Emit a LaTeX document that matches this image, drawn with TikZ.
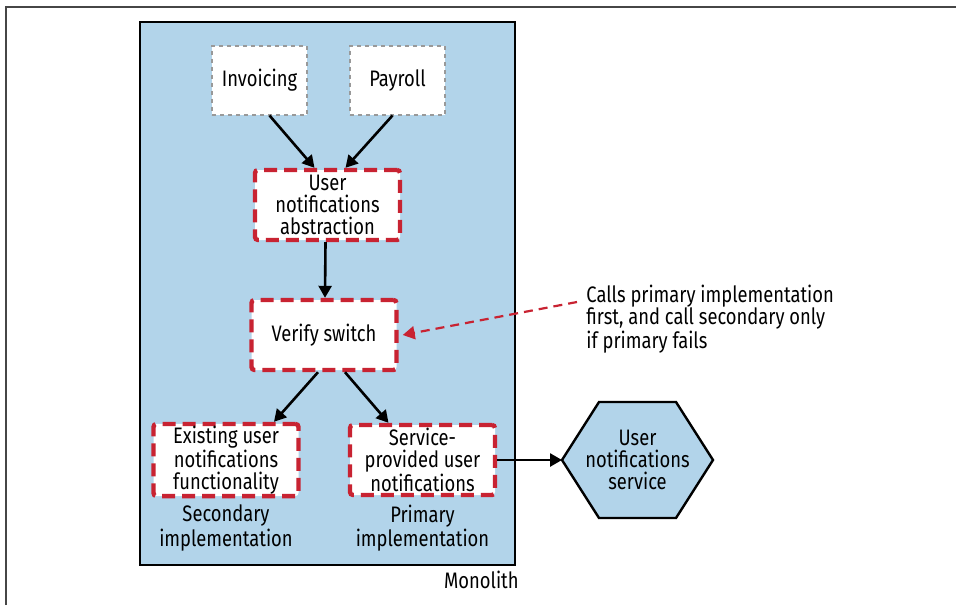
\documentclass[tikz,border=0pt]{standalone}
\usepackage{fontspec}
\setmainfont[FakeStretch=0.82]{Fira Sans}
\usetikzlibrary{positioning,arrows.meta,calc}
\definecolor{MonoBlue}{RGB}{178,212,234}
\definecolor{SwitchRed}{RGB}{200,35,50}
\definecolor{FrameGray}{RGB}{70,70,70}
\tikzset{
  txt/.style={font=\fontsize{11.2}{10.8}\selectfont, align=center, inner sep=1pt},
  callerbox/.style={txt, draw=gray!80, fill=white, dash pattern=on 2pt off 2pt, line width=1pt,
    minimum width=47.5pt, minimum height=34.5pt},
  implbox/.style={txt, draw=SwitchRed, fill=white, dash pattern=on 6.5pt off 3.5pt, line width=2.2pt,
    rounded corners=1.5pt, minimum width=72.5pt, minimum height=35pt},
  monolith/.style={draw, line width=1.3pt, fill=MonoBlue},
  hexbox/.style={draw, line width=1.2pt, fill=MonoBlue, line join=miter},
  arr/.style={-{Triangle[length=6pt,width=6.5pt]}, line width=1.3pt},
  notearr/.style={-{Triangle[length=6pt,width=6.5pt]}, line width=1.1pt, SwitchRed, dash pattern=on 4.5pt off 3pt},
}

\begin{document}
\begin{tikzpicture}[x=0.5pt, y=-0.5pt]
  \useasboundingbox (0,0) rectangle (956,605);
  % page frame
  \draw[FrameGray, line width=1pt] (6,605) -- (6,7) -- (956,7);

  % monolith
  \draw[monolith] (140,22) rectangle (515,565);
  \node[txt, anchor=east] (monolbl) at (521,580) {Monolith};

  % callers
  \node[callerbox] (inv) at (259.5,80) {Invoicing};
  \node[callerbox] (pay) at (397.5,80) {Payroll};

  % abstraction and switch
  \node[implbox] (abs) at (327.5,205) {User\\notifications\\abstraction};
  \node[implbox] (vs) at (324,335) {Verify switch};

  % implementations
  \node[implbox] (old) at (226,460) {Existing user\\notifications\\functionality};
  \node[implbox] (spu) at (422.5,460) {Service-\\provided user\\notifications};
  \node[txt] (seclbl) at (226,528) {Secondary\\implementation};
  \node[txt] (prilbl) at (422.5,528) {Primary\\implementation};

  % external service
  \coordinate (svc-w) at (562,460);
  \draw[hexbox] (svc-w) -- ++(37,-58) -- ++(77,0) -- ++(37,58) -- ++(-37,58) -- ++(-77,0) -- cycle;
  \node[txt] (svc) at (637.5,460) {User\\notifications\\service};

  % note
  \node[txt, align=left, anchor=west] (note) at (584,319)
    {Calls primary implementation\\first, and call secondary only\\if primary fails};
  \coordinate (note-tail) at (577,302);

  % connectors
  \draw[arr] ($(inv.south)+(10,0)$) -- ($(abs.north)+(-13,0)$);
  \draw[arr] ($(pay.south)+(-5,0)$) -- ($(abs.north)+(18,0)$);
  \draw[arr] ($(abs.south)+(-2,0)$) -- ($(vs.north)+(1,0)$);
  \draw[arr] ($(vs.south)+(-6,0)$) -- ($(old.north)+(48,0)$);
  \draw[arr] ($(vs.south)+(21,0)$) -- ($(spu.north)+(-34,0)$);
  \draw[arr] (spu.east) -- (svc-w);
  \draw[notearr] (note-tail) -- ($(vs.east)+(4,0)$);
\end{tikzpicture}
\end{document}
